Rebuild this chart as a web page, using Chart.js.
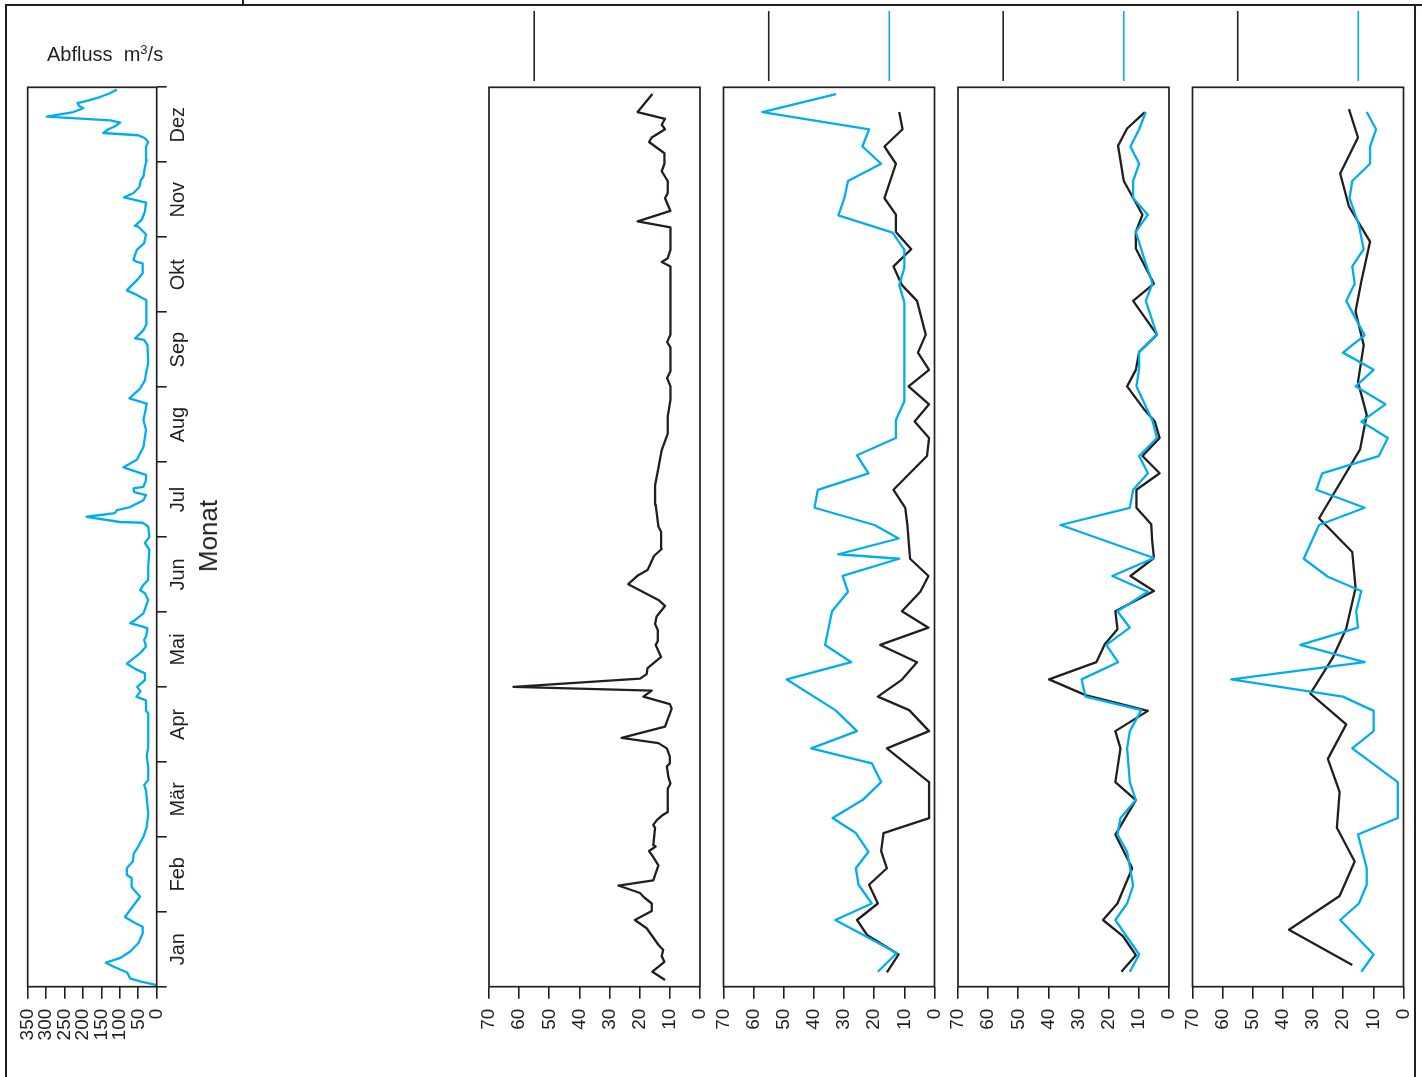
<!DOCTYPE html>
<html lang="de">
<head>
<meta charset="utf-8">
<title>Abfluss und Messreihen nach Monat</title>
<script src="https://cdn.jsdelivr.net/npm/chart.js@4.4.1/dist/chart.umd.min.js"></script>
<style>
  html, body { margin: 0; padding: 0; background: #fff; }
  #page { position: relative; width: 1422px; height: 1077px; overflow: hidden; background: #fff;
          font-family: "Liberation Sans", Arial, Helvetica, sans-serif; color: #231f20; }
  .rule { position: absolute; background: #231f20; }
  canvas { position: absolute; top: 0; }
  #abfluss { position: absolute; left: 47px; top: 44px; font-size: 20px; line-height: 20px; white-space: pre; }
  #abfluss .sup { font-size: 13px; position: relative; top: -7px; }
  #monat { position: absolute; left: 208px; top: 536px; font-size: 26px; line-height: 26px; white-space: nowrap;
           transform: translate(-50%, -50%) rotate(-90deg); }
</style>
</head>
<body>
<div id="page">
  <div class="rule" style="left:5px; top:4px; width:1417px; height:2px"></div>
  <div class="rule" style="left:5px; top:4px; width:2px; height:1073px"></div>
  <div class="rule" style="left:1414px; top:4px; width:2px; height:1073px"></div>
  <div class="rule" style="left:242px; top:0; width:2px; height:5px"></div>

  <canvas id="c0" width="240" height="1077" style="left:0"></canvas>
  <canvas id="c1" width="271" height="1077"></canvas>
  <canvas id="c2" width="271" height="1077"></canvas>
  <canvas id="c3" width="271" height="1077"></canvas>
  <canvas id="c4" width="271" height="1077"></canvas>

  <div id="abfluss">Abfluss  m<span class="sup">3</span>/s</div>
  <div id="monat">Monat</div>
</div>

<script>
// ---- data ----------------------------------------------------------------
// time axis: months since 1 January (0 = start of Jan, 12 = end of Dez)
const months = ['Jan', 'Feb', 'Mär', 'Apr', 'Mai', 'Jun', 'Jul', 'Aug', 'Sep', 'Okt', 'Nov', 'Dez'];

// discharge, m³/s
const abflussZeit = [0.02,0.07,0.11,0.19,0.27,0.32,0.38,0.47,0.58,0.71,0.80,0.85,0.93,1.11,1.20,1.25,1.33,1.45,1.49,1.58,
  1.67,1.78,1.87,2.00,2.13,2.31,2.62,2.69,2.76,2.94,3.07,3.20,3.65,3.68,3.82,3.87,3.94,4.00,4.09,4.18,
  4.23,4.31,4.45,4.54,4.63,4.67,4.78,4.80,4.85,4.89,4.98,5.16,5.25,5.29,5.36,5.43,5.60,5.83,5.92,6.00,
  6.14,6.19,6.20,6.27,6.32,6.36,6.40,6.49,6.56,6.60,6.65,6.67,6.76,6.83,6.87,6.93,7.03,7.20,7.43,7.56,
  7.65,7.78,7.85,7.98,8.09,8.18,8.32,8.56,8.63,8.65,8.67,8.76,8.85,8.98,9.16,9.23,9.29,9.43,9.52,9.65,
  9.67,9.70,9.83,9.92,10.04,10.14,10.15,10.23,10.34,10.46,10.49,10.53,10.59,10.67,10.76,10.81,10.94,11.03,11.21,11.27,
  11.32,11.36,11.39,11.44,11.48,11.53,11.56,11.61,11.64,11.67,11.72,11.75,11.79,11.82,11.87,11.92,11.97];
const abflussWert = [0,45,72,80,118,138,100,72,50,38,38,59,86,59,45,54,68,68,81,81,
  65,62,50,36,27,23,29,34,23,23,27,23,23,29,29,55,44,53,32,32,
  54,81,45,29,34,29,25,36,72,59,36,23,32,45,36,23,23,20,32,20,
  23,38,100,190,113,108,72,36,29,61,63,36,29,29,54,90,54,36,29,36,
  32,27,74,45,32,29,23,25,34,59,54,36,27,27,29,54,81,53,38,38,
  54,63,54,34,29,50,59,41,32,29,54,89,63,47,43,36,32,27,29,23,
  32,50,145,131,113,99,126,298,262,226,199,210,215,190,154,127,108];

// series 1 (black only)
const s1SchwarzZeit = [0.09,0.20,0.33,0.41,0.49,0.56,0.78,0.89,1.01,1.11,1.19,1.25,1.35,1.42,1.62,1.73,1.81,1.87,1.89,2.12,
  2.16,2.22,2.28,2.33,2.64,2.71,2.80,2.94,2.98,3.07,3.18,3.25,3.32,3.47,3.71,3.77,3.87,3.95,4.00,4.11,
  4.17,4.25,4.40,4.56,4.61,4.76,4.84,4.94,5.08,5.16,5.37,5.49,5.56,5.75,5.84,6.07,6.14,6.43,6.69,6.92,
  7.16,7.38,7.61,7.83,8.01,8.12,8.21,8.53,8.60,8.70,9.61,9.67,9.72,9.83,10.13,10.21,10.35,10.52,10.59,10.75,
  10.88,10.98,11.12,11.27,11.33,11.44,11.50,11.58,11.67,11.91];
const s1Schwarz = [11.6,15.8,11.8,12.7,12.2,13.8,17.7,21.6,16.0,16.0,18.5,19.9,27.1,15.5,13.8,15.5,16.9,14.7,15.5,14.9,
  15.5,14.4,12.7,10.7,10.7,9.8,10.5,11.0,10.0,10.0,11.0,13.8,26.0,11.6,9.4,10.0,18.8,16.0,61.9,19.9,
  17.7,17.4,12.9,14.7,14.0,14.0,14.9,14.4,11.6,13.8,23.8,20.5,17.4,15.2,12.7,12.9,13.8,14.7,14.9,13.8,
  12.7,10.7,10.7,9.8,9.8,10.9,9.8,9.8,10.9,9.8,9.8,12.7,10.7,9.8,9.8,20.7,9.8,11.6,10.7,10.7,
  12.7,11.8,11.8,16.9,16.0,11.6,12.7,11.6,20.7,15.8];

// series 2
const s2SchwarzZeit = [0.19,0.43,0.69,0.89,1.11,1.36,1.58,1.81,2.05,2.25,2.73,3.18,3.41,3.69,3.87,4.09,4.33,4.56,4.79,5.01,
  5.27,5.48,5.71,6.16,6.39,6.63,6.87,7.08,7.32,7.54,7.77,8.01,8.23,8.46,8.70,9.15,9.36,9.61,9.84,10.07,
  10.30,10.52,10.98,11.21,11.44,11.67];
const s2Schwarz = [15.8,11.9,22.4,25.7,18.8,21.7,15.8,17.7,16.9,1.8,1.8,15.8,1.8,8.4,18.8,11.0,5.8,18.0,2.0,10.8,
  4.7,2.0,8.1,9.0,9.7,13.6,7.7,2.5,1.8,6.6,1.8,8.6,1.8,5.5,2.9,5.8,10.8,13.6,7.7,12.8,
  12.8,16.6,12.8,16.6,10.6,11.7];
const s2BlauZeit = [0.20,0.45,0.89,1.11,1.36,1.58,1.80,2.05,2.25,2.49,2.73,2.98,3.18,3.41,3.69,4.10,4.33,4.56,5.01,5.27,
  5.48,5.71,5.77,5.98,6.16,6.39,6.63,6.85,7.09,7.32,7.56,7.81,9.13,9.36,9.59,9.83,10.06,10.29,10.52,10.75,
  10.98,11.21,11.44,11.67,11.91];
const s2Blau = [18.8,12.5,32.9,20.8,25.2,26.1,21.9,26.1,33.8,23.9,17.7,20.8,40.9,25.7,32.9,49.0,27.6,36.3,34.0,28.7,
  30.5,11.7,31.9,11.9,19.9,39.8,38.7,21.9,25.7,12.8,12.8,10.0,10.0,11.7,10.0,10.0,13.9,31.9,29.9,28.7,
  17.7,23.9,21.7,57.1,32.7];

// series 3
const s3SchwarzZeit = [0.20,0.42,0.67,0.89,1.11,1.58,2.03,2.49,2.73,3.18,3.41,3.68,3.89,4.10,4.33,4.57,4.77,5.01,5.28,5.48,
  5.72,5.96,6.17,6.39,6.63,6.85,7.08,7.32,7.54,7.69,8.01,8.23,8.47,8.70,9.15,9.38,9.85,10.07,10.30,10.75,
  11.22,11.45,11.67];
const s3Schwarz = [15.8,11.0,15.2,21.9,17.1,12.2,17.8,11.0,17.8,16.1,17.8,7.0,27.7,39.8,24.1,21.3,17.1,17.8,5.0,12.8,
  5.0,5.6,5.9,10.8,10.8,3.1,8.8,3.1,4.7,8.0,13.9,11.0,9.9,4.0,11.9,5.0,11.0,11.0,8.8,15.0,
  16.9,13.9,8.0];
const s3BlauZeit = [0.20,0.43,0.89,1.11,1.35,1.80,2.03,2.25,2.49,2.73,3.18,3.41,3.69,3.87,4.10,4.33,4.56,4.79,5.01,5.27,
  5.48,5.72,6.16,6.39,6.63,6.85,7.08,7.32,7.55,8.01,8.25,8.47,8.70,9.15,9.38,9.76,10.07,10.30,10.52,10.75,
  10.98,11.21,11.44,11.67];
const s3Blau = [13.0,9.9,17.8,13.9,11.9,13.9,17.1,16.1,11.0,13.0,13.9,13.0,9.2,27.7,29.0,16.9,20.8,13.0,17.1,7.0,
  18.8,5.0,36.0,13.0,11.9,7.0,9.9,4.0,5.5,10.8,9.9,9.9,4.0,7.7,5.5,8.6,11.0,7.0,11.9,11.9,
  9.9,12.8,9.9,7.7];

// series 4
const s4SchwarzZeit = [0.29,0.76,1.21,1.67,2.12,2.60,3.04,3.50,3.91,4.38,4.78,5.32,5.80,6.25,7.17,7.63,8.07,8.56,9.01,9.41,
  9.94,10.41,10.85,11.33,11.71];
const s4Schwarz = [17.0,38.0,21.2,16.2,22.1,21.2,25.1,19.0,30.9,23.6,19.0,15.9,17.0,28.0,14.4,12.2,15.1,13.2,15.9,14.0,
  11.1,18.1,21.0,15.1,18.1];
const s4BlauZeit = [0.20,0.43,0.89,1.11,1.36,1.58,2.03,2.25,2.73,3.18,3.41,3.68,3.87,4.10,4.33,4.56,4.79,5.01,5.28,5.47,
  5.71,6.16,6.39,6.63,6.85,7.08,7.32,7.54,7.77,8.01,8.23,8.46,8.69,9.15,9.38,9.61,9.84,10.16,10.52,10.75,
  10.98,11.21,11.44,11.67];
const s4Blau = [14.0,9.9,21.0,14.8,12.2,12.2,15.1,1.9,1.9,17.0,9.9,9.9,20.1,57.1,12.9,34.2,15.1,15.7,14.0,25.1,
  33.1,28.0,12.9,28.9,27.0,8.2,5.2,14.0,6.0,15.9,9.9,20.1,12.9,19.0,16.2,17.0,13.2,14.8,17.9,17.0,
  11.1,11.1,9.1,12.2];

// reference marks above the panels (black / blue)
const markSchwarz = [55, 55, 55, 55];
const markBlau = [null, 15, 15, 15];

// ---- styling & layout -----------------------------------------------------
const INK = '#231f20';
const CYAN = '#00aeef';
const FONT = '"Liberation Sans", Arial, Helvetica, sans-serif';
Chart.defaults.font.family = FONT;
Chart.defaults.color = INK;

const PLOT_TOP = 87.3;
const PLOT_BOTTOM = 986.7;
const X_AXIS_H = 70;
const CANVAS_H = 1077;

function points(t, v) { return t.map((tt, i) => ({ x: v[i], y: tt })); }

function lineSet(t, v, color) {
  return { data: points(t, v), showLine: true, borderColor: color, borderWidth: 2.3,
           borderJoinStyle: 'round', pointRadius: 0, pointHoverRadius: 0, tension: 0, fill: false };
}

// box around the plot area
const framePlugin = {
  id: 'frame',
  afterDraw(chart) {
    const { left, top, right, bottom } = chart.chartArea;
    const ctx = chart.ctx;
    ctx.save();
    ctx.strokeStyle = INK;
    ctx.lineWidth = 1.7;
    ctx.strokeRect(left, top, right - left, bottom - top);
    ctx.restore();
  }
};

// short vertical reference marks above the box, placed on the value scale
const markPlugin = {
  id: 'marks',
  afterDraw(chart, args, opts) {
    if (!opts.items) return;
    const ctx = chart.ctx, xs = chart.scales.x;
    ctx.save();
    ctx.lineWidth = 1.6;
    opts.items.forEach(m => {
      if (m.value == null) return;
      const x = xs.getPixelForValue(m.value);
      ctx.strokeStyle = m.color;
      ctx.beginPath();
      ctx.moveTo(x, opts.from);
      ctx.lineTo(x, opts.to);
      ctx.stroke();
    });
    ctx.restore();
  }
};

function valueAxis(max, step) {
  return {
    type: 'linear', position: 'bottom', min: 0, max: max, reverse: true,
    ticks: { stepSize: step, autoSkip: false, minRotation: 90, maxRotation: 90, padding: 10,
             color: INK, font: { size: 19 } },
    grid: { drawOnChartArea: false, drawTicks: true, tickLength: 12, color: INK, lineWidth: 1.6 },
    border: { display: false },
    afterFit(s) { s.height = X_AXIS_H; s.paddingLeft = 0; s.paddingRight = 0; }
  };
}

const baseOptions = {
  responsive: false,
  animation: false,
  events: [],
  plugins: { legend: { display: false }, tooltip: { enabled: false } }
};

// ---- discharge panel ------------------------------------------------------
new Chart(document.getElementById('c0'), {
  type: 'scatter',
  data: { datasets: [lineSet(abflussZeit, abflussWert, CYAN)] },
  plugins: [framePlugin],
  options: Object.assign({}, baseOptions, {
    layout: { padding: { left: 27.7, right: 240 - 156.7 - 50, top: PLOT_TOP, bottom: CANVAS_H - PLOT_BOTTOM - X_AXIS_H } },
    scales: {
      x: valueAxis(350, 50),
      y: {
        type: 'linear', position: 'right', min: 0, max: 12,
        afterBuildTicks(s) { s.ticks = months.map((m, i) => ({ value: i + 0.5 })); },
        ticks: { autoSkip: false, minRotation: 90, maxRotation: 90, crossAlign: 'center', padding: -6,
                 color: INK, font: { size: 20 }, callback: (v, i) => months[i] },
        grid: { offset: true, drawOnChartArea: false, drawTicks: true, tickLength: 10, color: INK, lineWidth: 1.6 },
        border: { display: false },
        afterFit(s) { s.width = 50; s.paddingTop = 0; s.paddingBottom = 0; }
      }
    }
  })
});

// ---- series panels --------------------------------------------------------
const panelLefts = [489, 723.5, 958, 1192.5];
const PANEL_W = 211;
const series = [
  [[s1SchwarzZeit, s1Schwarz, INK]],
  [[s2BlauZeit, s2Blau, CYAN], [s2SchwarzZeit, s2Schwarz, INK]],
  [[s3BlauZeit, s3Blau, CYAN], [s3SchwarzZeit, s3Schwarz, INK]],
  [[s4BlauZeit, s4Blau, CYAN], [s4SchwarzZeit, s4Schwarz, INK]]
];

series.forEach((sets, k) => {
  const canvas = document.getElementById('c' + (k + 1));
  const cLeft = Math.floor(panelLefts[k]) - 30;
  canvas.style.left = cLeft + 'px';
  const padLeft = panelLefts[k] - cLeft;
  new Chart(canvas, {
    type: 'scatter',
    data: { datasets: sets.map(s => lineSet(s[0], s[1], s[2])) },
    plugins: [framePlugin, markPlugin],
    options: Object.assign({}, baseOptions, {
      layout: { padding: { left: padLeft, right: canvas.width - padLeft - PANEL_W,
                           top: PLOT_TOP, bottom: CANVAS_H - PLOT_BOTTOM - X_AXIS_H } },
      plugins: {
        legend: { display: false }, tooltip: { enabled: false },
        marks: { from: 11, to: 81, items: [ { value: markSchwarz[k], color: INK }, { value: markBlau[k], color: CYAN } ] }
      },
      scales: {
        x: valueAxis(70, 10),
        y: { type: 'linear', min: 0, max: 12, display: false }
      }
    })
  });
});
</script>
</body>
</html>
